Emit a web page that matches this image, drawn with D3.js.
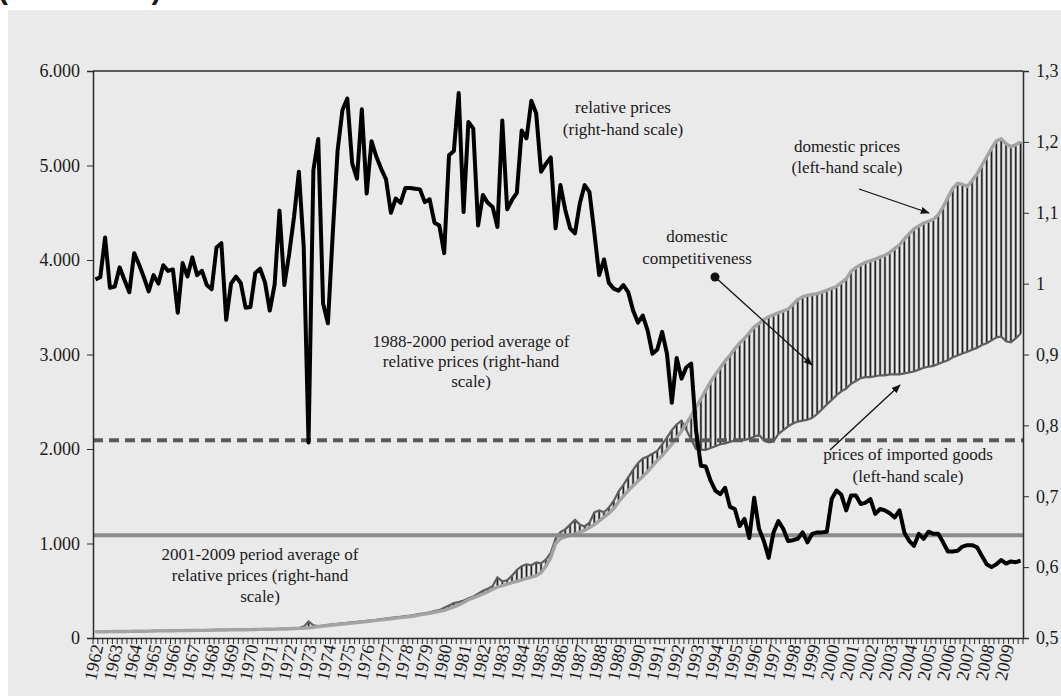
<!DOCTYPE html>
<html lang="en">
<head>
<meta charset="UTF-8">
<script src="https://d3js.org/d3.v7.min.js"></script>
<title>relative prices</title>
<style>
  body { margin: 0; background: #fff; }
  svg text { font-family: "Liberation Serif", "Times New Roman", serif; fill: #1a1a1a; }
  .axis path, .axis line { stroke: #2b2b2b; }
</style>
</head>
<body>
<div id="container"></div>
<script>
// basic sizes
var svg_width = 1061,
    svg_height = 696,
    plot = {left: 93, right: 1023, top: 71, bottom: 638};

// data (quarterly, 1962Q1 .. 2009Q4)
var years = d3.range(1962, 2010);
var yearLabels = years.map(String);
var leftTicks = [0, 1000, 2000, 3000, 4000, 5000, 6000];
var rightTicks = [0.5, 0.6, 0.7, 0.8, 0.9, 1.0, 1.1, 1.2, 1.3];

// relative prices (right-hand scale)
var relPrices = [
  1.006,1.009,1.065,0.994, 0.996,1.023,1.005,0.988, 1.043,1.027,1.009,0.989,
  1.012,1.000,1.026,1.018, 1.020,0.959,1.029,1.010, 1.037,1.012,1.018,0.998,
  0.992,1.051,1.057,0.949, 1.000,1.010,1.001,0.966, 0.967,1.015,1.021,1.002,
  0.962,0.999,1.103,0.998, 1.042,1.094,1.158,1.052, 0.776,1.160,1.204,0.972,
  0.944,1.071,1.188,1.245, 1.261,1.170,1.148,1.246, 1.127,1.201,1.179,1.162,
  1.147,1.100,1.120,1.114, 1.135,1.135,1.134,1.133, 1.115,1.119,1.086,1.082,
  1.043,1.181,1.187,1.269, 1.101,1.228,1.219,1.082, 1.125,1.114,1.108,1.080,
  1.230,1.105,1.118,1.128, 1.216,1.205,1.258,1.240, 1.158,1.169,1.178,1.078,
  1.139,1.104,1.078,1.071, 1.113,1.139,1.129,1.072, 1.012,1.034,1.001,0.993,
  0.990,0.998,0.988,0.962, 0.945,0.955,0.934,0.901, 0.907,0.932,0.901,0.832,
  0.895,0.866,0.882,0.887, 0.793,0.743,0.742,0.722, 0.708,0.703,0.712,0.685,
  0.682,0.658,0.668,0.641, 0.698,0.654,0.637,0.613, 0.649,0.665,0.654,0.637,
  0.638,0.640,0.649,0.635, 0.647,0.649,0.649,0.650, 0.696,0.708,0.702,0.680,
  0.701,0.701,0.689,0.691, 0.696,0.675,0.682,0.680, 0.676,0.670,0.680,0.649,
  0.637,0.630,0.647,0.640, 0.650,0.647,0.647,0.635, 0.622,0.622,0.623,0.629,
  0.631,0.631,0.628,0.616, 0.604,0.600,0.604,0.610, 0.605,0.608,0.607,0.609
];

// domestic prices (left-hand scale)
var domesticPrices = [
  65,66,66,67, 68,69,69,70, 71,72,72,73, 74,75,75,76, 77,78,78,79,
  80,81,81,82, 83,84,84,85, 86,87,88,88, 89,90,91,92, 93,94,95,96,
  98,100,102,104, 108,114,120,126, 132,138,143,148, 153,158,163,168,
  175,180,186,192, 198,204,210,216, 222,228,236,244, 252,262,272,282,
  293,310,330,350, 375,405,425,445, 465,490,515,540,
  555,570,585,600, 615,630,645,660, 690,760,850,1000,
  1050,1070,1085,1100, 1120,1140,1170,1200, 1240,1280,1320,1370,
  1440,1500,1560,1610, 1660,1710,1760,1820, 1880,1930,1990,2050,
  2120,2190,2270,2350, 2440,2530,2620,2710, 2790,2860,2930,2990,
  3060,3120,3170,3230, 3290,3330,3370,3400, 3420,3440,3460,3480,
  3530,3580,3610,3625, 3635,3645,3660,3680, 3700,3720,3760,3800,
  3880,3920,3950,3975, 3990,4010,4030,4050, 4080,4120,4160,4220,
  4280,4330,4360,4390, 4410,4430,4480,4560, 4660,4760,4810,4800,
  4780,4840,4910,5000, 5090,5180,5260,5280, 5230,5200,5220,5250
];

// prices of imported goods (left-hand scale)
var importPrices = [
  66,67,67,68, 69,70,70,71, 72,73,73,74, 75,76,76,77, 78,79,79,80,
  81,82,82,83, 84,85,85,86, 87,88,89,89, 90,91,92,93, 94,95,96,97,
  99,101,104,120, 175,135,125,132, 140,145,150,155, 160,165,170,175,
  182,188,193,200, 206,212,218,225, 232,238,246,255, 262,272,284,295,
  320,345,370,380, 395,420,440,470, 500,520,550,640,
  600,610,660,720, 760,780,770,800, 790,830,900,1050,
  1120,1150,1200,1250, 1200,1180,1220,1330, 1350,1330,1380,1450,
  1550,1620,1700,1780, 1850,1900,1920,1950, 1980,2050,2120,2200,
  2260,2300,2200,2100, 2000,1990,1990,2010, 2030,2050,2060,2075,
  2090,2100,2095,2110, 2130,2150,2090,2070, 2080,2160,2200,2240,
  2270,2290,2300,2310, 2330,2370,2420,2470, 2520,2570,2610,2640,
  2690,2720,2750,2760, 2760,2770,2780,2780, 2790,2790,2790,2800,
  2810,2820,2840,2860, 2870,2880,2900,2920, 2940,2970,2990,3010,
  3030,3050,3070,3100, 3120,3150,3180,3190, 3140,3130,3170,3220
];

// period averages of relative prices (right-hand scale)
var avg1988_2000 = 0.779;
var avg2001_2009 = 0.645;

var quarters = [];
years.forEach(function(y){ [1,2,3,4].forEach(function(q){ quarters.push(y + "Q" + q); }); });

var svg = d3.select("#container").append("svg")
    .attr("width", svg_width).attr("height", svg_height);

// chart area background
svg.append("rect").attr("x", 8).attr("y", 10)
    .attr("width", svg_width - 8).attr("height", svg_height - 10)
    .attr("fill", "#eaeaea");

// cut title line at the very top
svg.append("text").attr("x", -2).attr("y", -1)
    .style("font-family", "'Liberation Sans', Arial, sans-serif")
    .style("font-weight", "bold").style("font-size", "30px")
    .text("(1962-2009)");

// scales
var x = d3.scaleBand().domain(quarters).range([plot.left, plot.right]);
var xc = function(i){ return x(quarters[i]) + x.bandwidth() / 2; };
var yL = d3.scaleLinear().domain([0, 6000]).range([plot.bottom, plot.top]);
var yR = d3.scaleLinear().domain([0.5, 1.3]).range([plot.bottom, plot.top]);

var locale = d3.formatLocale({decimal: ",", thousands: ".", grouping: [3], currency: ["", ""]});

// hatches between domestic and import prices
var hatch = svg.append("g");
hatch.selectAll("line.h1").data(quarters).enter().append("line")
    .attr("x1", function(d,i){ return xc(i); }).attr("x2", function(d,i){ return xc(i); })
    .attr("y1", function(d,i){ return yL(importPrices[i]); })
    .attr("y2", function(d,i){ return yL(domesticPrices[i]); })
    .attr("stroke", "#9a9a9a").attr("stroke-width", 2.6);
hatch.selectAll("line.h2").data(quarters).enter().append("line")
    .attr("x1", function(d,i){ return xc(i); }).attr("x2", function(d,i){ return xc(i); })
    .attr("y1", function(d,i){ return yL(importPrices[i]); })
    .attr("y2", function(d,i){ return yL(domesticPrices[i]); })
    .attr("stroke", "#1e1e1e").attr("stroke-width", 1.3);

var lineL = d3.line().x(function(d,i){ return xc(i); }).y(function(d){ return yL(d); });
var lineR = d3.line().x(function(d,i){ return xc(i); }).y(function(d){ return yR(d); });

svg.append("path").attr("d", lineL(importPrices))
    .attr("fill", "none").attr("stroke", "#5e5e5e").attr("stroke-width", 2.2);
svg.append("path").attr("d", lineL(domesticPrices))
    .attr("fill", "none").attr("stroke", "#a3a3a3").attr("stroke-width", 3.4);

// average lines
svg.append("line").attr("x1", plot.left).attr("x2", plot.right)
    .attr("y1", yR(avg1988_2000)).attr("y2", yR(avg1988_2000))
    .attr("stroke", "#5a5a5a").attr("stroke-width", 4).attr("stroke-dasharray", "10,6");
svg.append("line").attr("x1", plot.left).attr("x2", plot.right)
    .attr("y1", yR(avg2001_2009)).attr("y2", yR(avg2001_2009))
    .attr("stroke", "#8c8c8c").attr("stroke-width", 4);

// relative prices
svg.append("path").attr("d", lineR(relPrices))
    .attr("fill", "none").attr("stroke", "#000").attr("stroke-width", 4)
    .attr("stroke-linejoin", "round");

// frame
svg.append("line").attr("x1", plot.left).attr("x2", plot.right)
    .attr("y1", plot.top).attr("y2", plot.top).attr("stroke", "#2b2b2b").attr("stroke-width", 1.5);

// axes
var gL = svg.append("g").attr("class", "axis").attr("transform", "translate(" + plot.left + ",0)")
    .call(d3.axisLeft(yL).tickValues(leftTicks).tickSize(6).tickPadding(7).tickFormat(locale.format(",")));
var gR = svg.append("g").attr("class", "axis").attr("transform", "translate(" + plot.right + ",0)")
    .call(d3.axisRight(yR).tickValues(rightTicks).tickSize(6).tickPadding(7).tickFormat(locale.format(".1~f")));
var gX = svg.append("g").attr("class", "axis").attr("transform", "translate(0," + plot.bottom + ")")
    .call(d3.axisBottom(x).tickValues([]).tickSizeOuter(0));
[gL, gR, gX].forEach(function(g){
  g.select(".domain").attr("stroke-width", 1.5);
  g.selectAll("text").style("font-family", "'Liberation Serif', serif").style("font-size", "18px").attr("fill", "#1a1a1a");
});

// quarter tick marks
gX.selectAll("line.qt").data(d3.range(quarters.length + 1)).enter().append("line")
    .attr("x1", function(i){ return plot.left + i * x.step(); })
    .attr("x2", function(i){ return plot.left + i * x.step(); })
    .attr("y1", 0).attr("y2", 6).attr("stroke", "#2b2b2b").attr("stroke-width", 1);

// year labels (slanted, reading upwards)
svg.append("g").selectAll("text").data(yearLabels).enter().append("text")
    .attr("transform", function(d, k){
      return "translate(" + (xc(k * 4) + 8) + "," + (plot.bottom + 8) + ") rotate(-78)";
    })
    .attr("text-anchor", "end")
    .style("font-size", "18px")
    .text(function(d){ return d; });

// arrow marker
svg.append("defs").append("marker").attr("id", "arr")
    .attr("viewBox", "0 0 10 10").attr("refX", 9).attr("refY", 5)
    .attr("markerWidth", 7).attr("markerHeight", 7).attr("orient", "auto")
    .append("path").attr("d", "M0,1 L10,5 L0,9 z").attr("fill", "#111");

function note(lines, cx, y0, dy) {
  var t = svg.append("text").attr("text-anchor", "middle").style("font-size", "17px");
  lines.forEach(function(s, k){
    t.append("tspan").attr("x", cx).attr("y", y0 + k * dy).text(s);
  });
}
function arrow(x1, y1, x2, y2) {
  svg.append("line").attr("x1", x1).attr("y1", y1).attr("x2", x2).attr("y2", y2)
      .attr("stroke", "#111").attr("stroke-width", 1.3).attr("marker-end", "url(#arr)");
}

note(["relative prices", "(right-hand scale)"], 623, 113, 22);
note(["domestic prices", "(left-hand scale)"], 847, 152, 21);
note(["domestic", "competitiveness"], 697, 242, 22);
note(["prices of imported goods", "(left-hand scale)"], 908, 460, 22);
note(["1988-2000 period average of", "relative prices (right-hand", "scale)"], 471, 347, 20);
note(["2001-2009 period average of", "relative prices (right-hand", "scale)"], 260, 560, 21);

arrow(859, 189, 929, 213);
svg.append("circle").attr("cx", 715).attr("cy", 277).attr("r", 4.5).attr("fill", "#111");
arrow(715, 277, 812, 365);
arrow(830, 450, 900, 385);
</script>
</body>
</html>
